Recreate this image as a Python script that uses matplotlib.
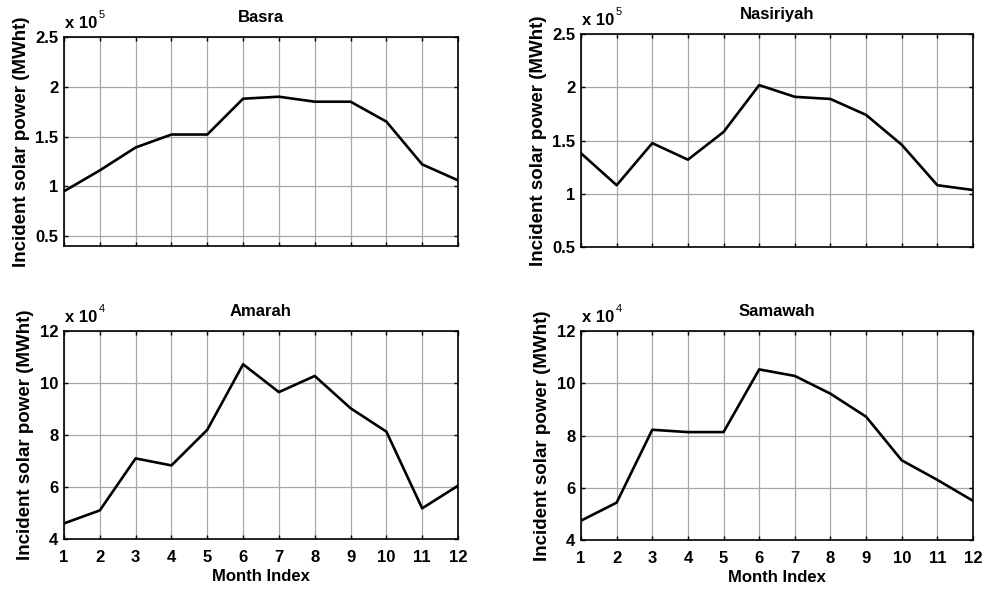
import matplotlib
matplotlib.use("Agg")
import matplotlib.pyplot as plt
from matplotlib.ticker import FuncFormatter

plt.rcParams['font.family'] = ['Liberation Sans', 'DejaVu Sans']
plt.rcParams['font.weight'] = 'bold'

months = list(range(1, 12 + 1))

# incident solar power (in units of 10^exp MWht)
basra = [0.95, 1.16, 1.39, 1.52, 1.52, 1.88, 1.90, 1.85, 1.85, 1.65, 1.22, 1.06]
nasiriyah = [1.38, 1.08, 1.475, 1.32, 1.58, 2.02, 1.91, 1.89, 1.74, 1.46, 1.08, 1.035]
amarah = [4.6, 5.1, 7.1, 6.83, 8.2, 10.72, 9.65, 10.27, 9.03, 8.13, 5.18, 6.05]
samawah = [4.74, 5.43, 8.22, 8.13, 8.13, 10.53, 10.28, 9.6, 8.72, 7.05, 6.3, 5.5]

titles = ['Basra', 'Nasiriyah', 'Amarah', 'Samawah']
series = [basra, nasiriyah, amarah, samawah]
exponents = [5, 5, 4, 4]
ylims = [(0.4, 2.5), (0.5, 2.5), (4, 12), (4, 12)]
yticks = [[0.5, 1, 1.5, 2, 2.5], [0.5, 1, 1.5, 2, 2.5], [4, 6, 8, 10, 12], [4, 6, 8, 10, 12]]

fig = plt.figure(figsize=(9.83, 5.89), dpi=100)
W, H = 983, 589
boxes = [(64, 37, 458, 246), (581, 34, 973, 247), (64, 331, 458, 539), (581, 331, 973, 540)]

fmt = FuncFormatter(lambda v, p: '%g' % v)

for i in range(4):
    x0, y0, x1, y1 = boxes[i]
    ax = fig.add_axes([x0 / W, 1 - y1 / H, (x1 - x0) / W, (y1 - y0) / H])
    ax.plot(months, series[i], color='black', lw=1.9)
    ax.set_xlim(1, 12)
    ax.set_ylim(*ylims[i])
    ax.set_xticks(months)
    ax.set_yticks(yticks[i])
    ax.yaxis.set_major_formatter(fmt)
    ax.grid(True, color='#a8a8a8', lw=0.9)
    ax.tick_params(direction='in', length=3, width=1, top=True, right=True,
                   labelsize=12)
    ax.tick_params(axis='x', pad=8)
    ax.tick_params(axis='y', pad=4)
    for s in ax.spines.values():
        s.set_linewidth(1.2)
    for lab in ax.get_xticklabels() + ax.get_yticklabels():
        lab.set_fontweight('bold')
    if i < 2:
        ax.tick_params(labelbottom=False)
    else:
        ax.set_xlabel('Month Index', fontsize=12, fontweight='bold', labelpad=3)
    ax.set_ylabel('Incident solar power (MWht)', fontsize=13.5, fontweight='bold', labelpad=4)
    ax.set_title(titles[i], fontsize=12, fontweight='bold', pad=11)
    # multiplier shown above the axes, like matlab does
    ax.annotate('x 10', xy=(0, 1), xycoords='axes fraction', xytext=(1, 4),
                textcoords='offset points', fontsize=12, fontweight='bold',
                ha='left', va='bottom')
    ax.annotate(str(exponents[i]), xy=(0, 1), xycoords='axes fraction', xytext=(25, 12),
                textcoords='offset points', fontsize=8, fontweight='normal',
                ha='left', va='bottom')

fig.savefig('out.png', dpi=100)
